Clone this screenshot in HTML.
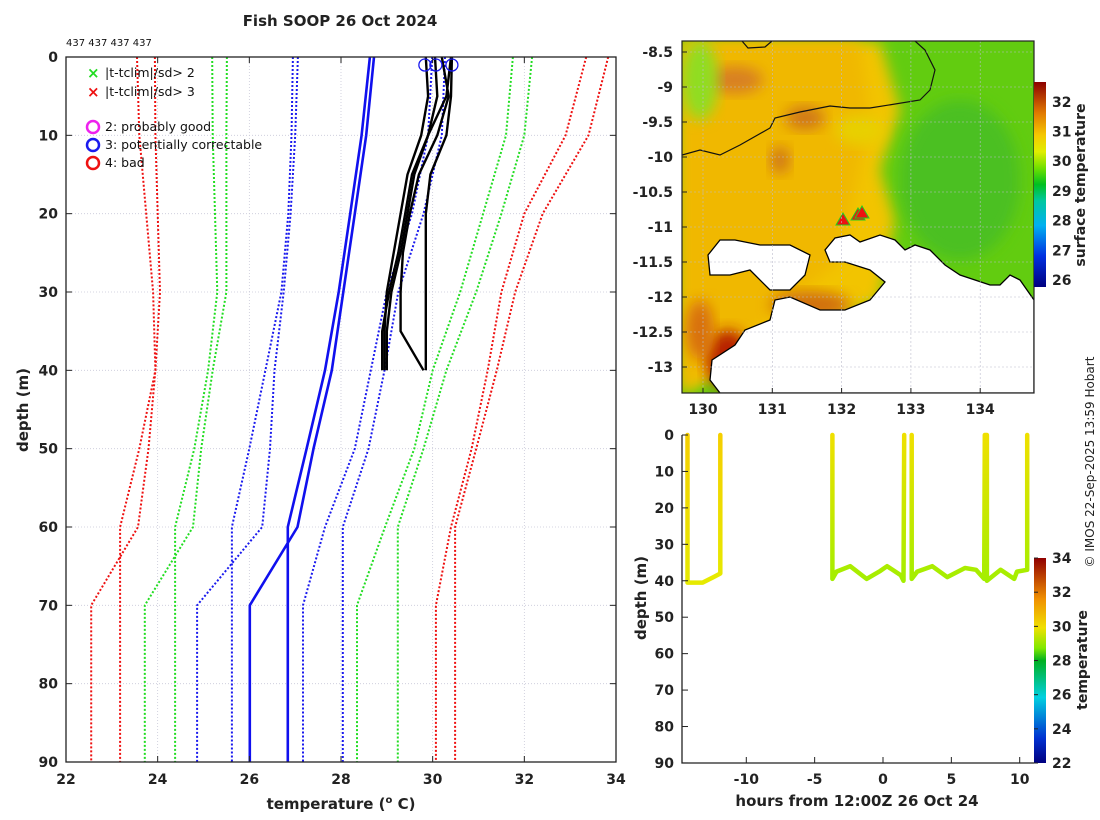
<!DOCTYPE html>
<html><head><meta charset="utf-8">
<style>
body{margin:0;background:#fff;}
svg{display:block;font-family:"DejaVu Sans","Liberation Sans",sans-serif;}
.tk{font-size:14px;font-weight:bold;fill:#222;}
.ttl{font-size:15px;font-weight:bold;fill:#222;}
</style></head>
<body>
<svg id="fig" width="1100" height="820" viewBox="0 0 1100 820" xmlns="http://www.w3.org/2000/svg">
<defs>
<linearGradient id="jet" x1="0" y1="1" x2="0" y2="0">
<stop offset="0" stop-color="#00007f"/><stop offset="0.15" stop-color="#0030e0"/><stop offset="0.3" stop-color="#00b0f0"/><stop offset="0.42" stop-color="#00c8a0"/><stop offset="0.5" stop-color="#00c020"/><stop offset="0.58" stop-color="#70e000"/><stop offset="0.66" stop-color="#e0ee00"/><stop offset="0.74" stop-color="#f5c800"/><stop offset="0.85" stop-color="#e07800"/><stop offset="1" stop-color="#8c0000"/>
</linearGradient>
<linearGradient id="jet2" x1="0" y1="1" x2="0" y2="0">
<stop offset="0" stop-color="#00007f"/><stop offset="0.12" stop-color="#0030d0"/><stop offset="0.32" stop-color="#00d0e0"/><stop offset="0.5" stop-color="#00b020"/><stop offset="0.56" stop-color="#80e800"/><stop offset="0.66" stop-color="#f0e000"/><stop offset="0.8" stop-color="#f09000"/><stop offset="1" stop-color="#900000"/>
</linearGradient>
<linearGradient id="castA" x1="0" y1="0" x2="0" y2="1"><stop offset="0" stop-color="#f5cf00"/><stop offset="1" stop-color="#e6ea00"/></linearGradient>
<linearGradient id="castB" x1="0" y1="0" x2="0" y2="1"><stop offset="0" stop-color="#efe000"/><stop offset="1" stop-color="#a4ee00"/></linearGradient>
<filter id="blur" x="-20%" y="-20%" width="140%" height="140%"><feGaussianBlur stdDeviation="7"/></filter>
<clipPath id="mapclip"><rect x="682" y="41" width="352" height="352"/></clipPath>
</defs>
<text class="ttl" x="340" y="26" text-anchor="middle">Fish SOOP 26 Oct 2024</text>
<text x="66" y="46" font-size="10" fill="#111">437 437 437 437</text>
<g id="left"></g>
<g id="map"></g>
<g id="sect"></g>
<text x="1094" y="462" font-size="12" fill="#222" text-anchor="middle" transform="rotate(-90 1094 462)">© IMOS 22-Sep-2025 13:59 Hobart</text>
</svg>
<script>
const NS="http://www.w3.org/2000/svg";
// ---- profile plot data ----
const climDepths=[0,10,20,30,40,50,60,70,80,90];
const redA=[23.94,23.95,24.0,24.05,23.95,23.6,23.18,23.18,23.18,23.18];
const redB=[23.55,23.6,23.75,23.9,23.95,23.8,23.57,22.55,22.55,22.55];
const greenA=[25.19,25.2,25.25,25.3,25.1,24.8,24.38,24.38,24.38,24.38];
const greenB=[25.51,25.5,25.5,25.5,25.2,24.95,24.77,23.72,23.72,23.72];
const blueA=[26.95,26.92,26.85,26.7,26.35,26.0,25.62,25.62,25.62,25.62];
const blueB=[27.06,27.0,26.9,26.75,26.55,26.45,26.28,24.86,24.86,24.86];
const solidA=[28.63,28.45,28.2,27.95,27.65,27.25,26.84,26.84,26.84,26.84];
const solidB=[28.72,28.55,28.3,28.05,27.8,27.4,27.05,26.01,26.01,26.01];
const blueRA=[30.27,30.2,29.8,29.25,28.95,28.6,28.04,28.04,28.04,28.04];
const blueRB=[29.99,29.9,29.55,29.0,28.65,28.3,27.65,27.17,27.17,27.17];
const greenRA=[32.17,32.0,31.5,30.95,30.3,29.8,29.24,29.24,29.24,29.24];
const greenRB=[31.75,31.6,31.1,30.6,30.0,29.6,28.96,28.35,28.35,28.35];
const redRA=[33.83,33.4,32.4,31.8,31.4,30.95,30.49,30.49,30.49,30.49];
const redRB=[33.35,32.9,32.0,31.5,31.2,30.85,30.4,30.07,30.07,30.07];
const profDepths=[0,5,10,15,20,25,30,35,40];
const prof1=[29.85,29.9,29.75,29.45,29.3,29.15,29.0,28.95,28.95];
const prof2=[30.05,30.1,29.9,29.55,29.4,29.25,29.05,28.9,28.9];
const prof3=[30.4,30.3,29.9,29.6,29.45,29.3,29.1,29.0,29.0];
const prof4=[30.2,30.35,30.1,29.7,29.5,29.35,29.3,29.3,29.8];
const prof5=[30.42,30.4,30.3,29.95,29.85,29.85,29.85,29.85,29.85];
const flagTemps=[29.83,30.07,30.42];
const tempTicks=[22,24,26,28,30,32,34];
const depthTicks=[0,10,20,30,40,50,60,70,80,90];
// ---- section data ----
const secTime1=[-14.3,-14.3,-13.2,-12.4,-11.9,-11.9];
const secDepth1=[0,40.5,40.5,39,38,0];
const secTime2=[-3.7,-3.7,-3.4,-2.4,-1.2,-0.2,0.3,1.3,1.5,1.55];
const secDepth2=[0,39.5,37.5,36,39.5,37.3,36,38.5,40,0];
const secTime3=[2.1,2.1,2.5,3.6,4.7,6.0,6.8,7.4,7.45,7.6,7.6,8.6,9.6,9.8,10.55,10.55];
const secDepth3=[0,39.5,37.5,36,39,36.5,37,39.5,0,0,40,37,39.5,37.5,37,0];
const hourTicks=[-10,-5,0,5,10];
const cbTicks2=[22,24,26,28,30,32,34];
const cbTicks1=[26,27,28,29,30,31,32];
const lonTicks=[130,131,132,133,134];
const latTicks=[-8.5,-9,-9.5,-10,-10.5,-11,-11.5,-12,-12.5,-13];

function el(tag,attrs,parent,txt){const e=document.createElementNS(NS,tag);for(const k in attrs)e.setAttribute(k,attrs[k]);if(txt!==undefined)e.textContent=txt;parent.appendChild(e);return e;}

const xL=t=>66+(t-22)*550/12, yL=d=>57+d*705/90;
const L=document.getElementById('left');
tempTicks.forEach(t=>{const g=el('line',{x1:xL(t),x2:xL(t),y1:57,y2:762,stroke:'#c8c8d8','stroke-width':0.8,'stroke-dasharray':'1 2'},L);});
depthTicks.forEach(d=>{const g=el('line',{x1:66,x2:616,y1:yL(d),y2:yL(d),stroke:'#c8c8d8','stroke-width':0.8,'stroke-dasharray':'1 2'},L);});
function pline(temps,depths,color,dotted,w,name){
  const pts=temps.map((t,i)=>xL(t).toFixed(1)+','+yL(depths[i]).toFixed(1)).join(' ');
  const p=el('polyline',{points:pts,fill:'none',stroke:color,'stroke-width':w,'stroke-dasharray':dotted?'2 2':'none','stroke-linejoin':'round'},L);
  
  
}
pline(redA,climDepths,'#ee1111',true,2,'clim-red-a');
pline(redB,climDepths,'#ee1111',true,2,'clim-red-b');
pline(greenA,climDepths,'#22dd22',true,2,'clim-green-a');
pline(greenB,climDepths,'#22dd22',true,2,'clim-green-b');
pline(blueA,climDepths,'#1a1aee',true,2,'clim-blue-a');
pline(blueB,climDepths,'#1a1aee',true,2,'clim-blue-b');
pline(blueRA,climDepths,'#1a1aee',true,2,'clim-blue-right-a');
pline(blueRB,climDepths,'#1a1aee',true,2,'clim-blue-right-b');
pline(greenRA,climDepths,'#22dd22',true,2,'clim-green-right-a');
pline(greenRB,climDepths,'#22dd22',true,2,'clim-green-right-b');
pline(redRA,climDepths,'#ee1111',true,2,'clim-red-right-a');
pline(redRB,climDepths,'#ee1111',true,2,'clim-red-right-b');
pline(solidA,climDepths,'#1010ee',false,2.6,'mean-profile-a');
pline(solidB,climDepths,'#1010ee',false,2.6,'mean-profile-b');
[prof1,prof2,prof3,prof4,prof5].forEach((p,i)=>pline(p,profDepths,'#000',false,2.4,'xbt-profile-'+(i+1)));
flagTemps.forEach(t=>{const c=el('circle',{cx:xL(t),cy:65,r:6,fill:'none',stroke:'#1a1aee','stroke-width':1.3},L);});
el('rect',{x:66,y:57,width:550,height:705,fill:'none',stroke:'#222','stroke-width':1.3},L);
tempTicks.forEach(t=>{el('line',{x1:xL(t),x2:xL(t),y1:57,y2:63,stroke:'#222'},L);el('line',{x1:xL(t),x2:xL(t),y1:762,y2:756,stroke:'#222'},L);
 const tx=el('text',{x:xL(t),y:784,class:'tk','text-anchor':'middle'},L,t);});
depthTicks.forEach(d=>{el('line',{x1:66,x2:72,y1:yL(d),y2:yL(d),stroke:'#222'},L);el('line',{x1:616,x2:610,y1:yL(d),y2:yL(d),stroke:'#222'},L);
 const tx=el('text',{x:58,y:yL(d)+5,class:'tk','text-anchor':'end'},L,d);});
const xt=el('text',{x:341,y:809,class:'ttl','text-anchor':'middle'},L);xt.innerHTML='temperature (<tspan dy="-6" font-size="10">o</tspan><tspan dy="6"> C)</tspan>';

const yt=el('text',{x:28,y:410,class:'ttl','text-anchor':'middle',transform:'rotate(-90 28 410)'},L,'depth (m)');

const lg=el('g',{},L);
[['#22dd22','|t-tclim|/sd> 2',73],['#ee1111','|t-tclim|/sd> 3',92]].forEach(a=>{el('text',{x:87,y:a[2]+5,fill:a[0],'font-size':15,'font-weight':'bold'},lg,'×');el('text',{x:105,y:a[2]+4,'font-size':12.5,fill:'#111'},lg,a[1]);});
[['#ee22ee','2: probably good',127],['#1a1aee','3: potentially correctable',145],['#ee1111','4: bad',163]].forEach(a=>{el('circle',{cx:93,cy:a[2],r:6,fill:'none',stroke:a[0],'stroke-width':2.5},lg);el('text',{x:105,y:a[2]+4,'font-size':12.5,fill:'#111'},lg,a[1]);});

// ---- map ----
const M=document.getElementById('map');
const lx=v=>703+(v-130)*69.3, ly=v=>52+(-8.5-v)*70;
const mg=el('g',{'clip-path':'url(#mapclip)'},M);
el('rect',{x:682,y:41,width:352,height:352,fill:'#62cc10'},mg);
el('path',{d:'M682,41 L880,41 L900,110 L880,170 L895,220 L880,300 L682,393 Z',fill:'#f2c400',filter:'url(#blur)'},mg);
el('path',{d:'M682,41 L860,41 L870,120 L840,260 L682,393 Z',fill:'#f0b800',filter:'url(#blur)'},mg);
[[735,80,28,14,'#d88020'],[805,118,20,12,'#d07818'],[780,160,10,14,'#d07818'],[728,360,22,30,'#b82000'],[700,330,14,30,'#d87010'],[810,305,40,14,'#d07010'],[700,80,18,40,'#90dd20'],[860,130,25,15,'#e8d000'],[960,180,60,80,'#4cc020']].forEach(b=>el('ellipse',{cx:b[0],cy:b[1],rx:b[2],ry:b[3],fill:b[4],filter:'url(#blur)'},mg));
el('path',{d:'M720,393 L710,380 L712,360 L735,345 L745,330 L770,320 L775,300 L790,297 L820,310 L845,310 L870,300 L885,282 L870,270 L845,262 L830,262 L825,250 L835,238 L850,235 L860,242 L880,235 L895,240 L905,250 L915,245 L930,250 L945,265 L960,275 L990,285 L1000,285 L1010,275 L1020,280 L1034,300 L1034,393 Z',fill:'#fff',stroke:'#000','stroke-width':1.3},mg);
el('path',{d:'M708,255 L720,240 L735,240 L760,245 L790,245 L810,255 L805,275 L790,290 L770,290 L750,270 L730,275 L710,275 Z',fill:'#fff',stroke:'#000','stroke-width':1.3},mg);
el('path',{d:'M682,155 L700,150 L720,155 L740,145 L770,128 L775,118 L800,112 L830,106 L850,108 L870,108 L920,100 L930,90 L935,70 L925,50 L915,41',fill:'none',stroke:'#111','stroke-width':1.2},mg);
el('path',{d:'M742,41 L748,48 L765,47 L772,41',fill:'none',stroke:'#111','stroke-width':1.2},mg);
[[843,220],[858,215],[862,213]].forEach(p=>el('path',{d:`M${p[0]},${p[1]-7} L${p[0]+7},${p[1]+5} L${p[0]-7},${p[1]+5} Z`,fill:'#ee1111',stroke:'#22cc22','stroke-width':1},M));
lonTicks.forEach(v=>{el('line',{x1:lx(v),x2:lx(v),y1:41,y2:393,stroke:'#bbc','stroke-width':0.6,'stroke-dasharray':'2 2'},M);el('line',{x1:lx(v),x2:lx(v),y1:393,y2:388,stroke:'#222'},M);
 const t=el('text',{x:lx(v),y:414,class:'tk','text-anchor':'middle'},M,v);});
latTicks.forEach(v=>{el('line',{x1:682,x2:1034,y1:ly(v),y2:ly(v),stroke:'#bbc','stroke-width':0.6,'stroke-dasharray':'2 2'},M);el('line',{x1:682,x2:687,y1:ly(v),y2:ly(v),stroke:'#222'},M);
 const t=el('text',{x:673,y:ly(v)+5,class:'tk','text-anchor':'end'},M,v);});
el('rect',{x:682,y:41,width:352,height:352,fill:'none',stroke:'#222','stroke-width':1.2},M);
const cb1=el('rect',{x:1034,y:82,width:12,height:205,fill:'url(#jet)'},M);
cbTicks1.forEach(v=>{const y=280-(v-26)*29.7;el('text',{x:1052,y:y+5,class:'tk','font-size':13},M,v);});
el('text',{x:1085,y:185,class:'tk','text-anchor':'middle',transform:'rotate(-90 1085 185)'},M,'surface temperature');

// ---- section ----
const S=document.getElementById('sect');
const xs=h=>883+h*13.67, ys=d=>435+d*3.644;
function sline(ts,ds,grad,name){const p=el('polyline',{points:ts.map((t,i)=>xs(t).toFixed(1)+','+ys(ds[i]).toFixed(1)).join(' '),fill:'none',stroke:grad,'stroke-width':4.5,'stroke-linejoin':'round','stroke-linecap':'round'},S);
 }
sline(secTime1,secDepth1,'url(#castA)','section-track-1');
sline(secTime2,secDepth2,'url(#castB)','section-track-2');
sline(secTime3,secDepth3,'url(#castB)','section-track-3');
el('path',{d:'M682,435 L682,763 L1034,763',fill:'none',stroke:'#222','stroke-width':1.3},S);
hourTicks.forEach(h=>{el('line',{x1:xs(h),x2:xs(h),y1:763,y2:757,stroke:'#222'},S);const t=el('text',{x:xs(h),y:784,class:'tk','text-anchor':'middle'},S,h);});
depthTicks.forEach(d=>{el('line',{x1:682,x2:688,y1:ys(d),y2:ys(d),stroke:'#222'},S);const t=el('text',{x:674,y:ys(d)+5,class:'tk','text-anchor':'end'},S,d);});
el('text',{x:857,y:806,class:'ttl','text-anchor':'middle'},S,'hours from 12:00Z 26 Oct 24');
el('text',{x:646,y:598,class:'ttl','text-anchor':'middle',transform:'rotate(-90 646 598)'},S,'depth (m)');
const cb2=el('rect',{x:1034,y:558,width:12,height:205,fill:'url(#jet2)'},S);
cbTicks2.forEach(v=>{const y=763-(v-22)*17.08;el('line',{x1:1034,x2:1038,y1:y,y2:y,stroke:'#222'},S);el('text',{x:1052,y:y+5,class:'tk','font-size':13},S,v);});
el('text',{x:1087,y:660,class:'tk','text-anchor':'middle',transform:'rotate(-90 1087 660)'},S,'temperature');
</script>
</body></html>
